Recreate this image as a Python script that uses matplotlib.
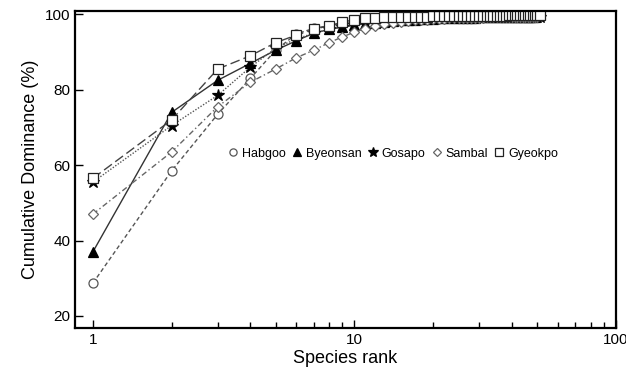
import matplotlib
matplotlib.use("Agg")
import matplotlib.pyplot as plt
from matplotlib.ticker import FixedLocator, FixedFormatter, NullFormatter

plt.rcParams['font.family'] = ['Liberation Sans', 'DejaVu Sans']

#### data ####
habgoo = [28.7, 58.5, 73.5, 83.0, 90.5, 94.8, 96.3, 97.0, 97.5, 97.9,
          98.2, 98.4, 98.5, 98.6, 98.7, 98.8, 98.8, 98.9, 98.9, 99.0,
          99.0, 99.0, 99.1, 99.1, 99.1, 99.1, 99.2, 99.2, 99.2, 99.2,
          99.2, 99.2, 99.3, 99.3, 99.3, 99.3, 99.3, 99.3, 99.3, 99.3,
          99.4, 99.4, 99.4, 99.4, 99.4, 99.4, 99.4, 99.4, 99.4, 99.4]
byeonsan = [37.0, 74.0, 82.5, 87.0, 90.5, 93.0, 95.0, 96.0, 96.6, 97.1,
            97.5, 97.8, 98.0, 98.2, 98.4, 98.5, 98.6, 98.7, 98.8, 98.8,
            98.9, 98.9, 99.0, 99.0, 99.0, 99.1, 99.1, 99.1, 99.1, 99.2,
            99.2, 99.2, 99.2, 99.2, 99.3, 99.3, 99.3, 99.3, 99.3, 99.3,
            99.3, 99.4, 99.4, 99.4, 99.4, 99.4, 99.4, 99.4, 99.4]
gosapo = [55.5, 70.5, 78.5, 86.0, 91.0, 93.5, 95.0, 96.0, 96.7, 97.2,
          97.6, 97.9, 98.1, 98.3, 98.5, 98.6, 98.7, 98.8, 98.8, 98.9,
          98.9, 99.0, 99.0, 99.0, 99.1, 99.1, 99.1, 99.1, 99.2, 99.2,
          99.2, 99.2, 99.2, 99.3, 99.3, 99.3, 99.3, 99.3, 99.3, 99.3,
          99.4, 99.4, 99.4, 99.4, 99.4, 99.4, 99.4, 99.4, 99.4, 99.4, 99.4]
sambal = [47.0, 63.5, 75.5, 82.0, 85.5, 88.5, 90.5, 92.5, 94.0, 95.3,
          96.2, 96.9, 97.4, 97.8, 98.0, 98.2, 98.4, 98.5, 98.6, 98.7,
          98.8, 98.8, 98.9, 98.9, 99.0, 99.0, 99.0, 99.1, 99.1, 99.1,
          99.1, 99.2, 99.2, 99.2, 99.2, 99.2, 99.3, 99.3, 99.3, 99.3,
          99.3, 99.3, 99.3, 99.4, 99.4, 99.4, 99.4, 99.4, 99.4, 99.4]
gyeokpo = [56.5, 72.0, 85.5, 89.0, 92.5, 94.5, 96.0, 97.0, 97.9, 98.6,
           98.9, 99.1, 99.2, 99.3, 99.3, 99.4, 99.4, 99.4, 99.4, 99.5,
           99.5, 99.5, 99.5, 99.5, 99.5, 99.5, 99.6, 99.6, 99.6, 99.6,
           99.6, 99.6, 99.6, 99.6, 99.6, 99.6, 99.6, 99.6, 99.7, 99.7,
           99.7, 99.7, 99.7, 99.7, 99.7, 99.7, 99.7, 99.7, 99.7, 99.7, 99.7]

names = ["Habgoo", "Byeonsan", "Gosapo", "Sambal", "Gyeokpo"]
series = [habgoo, byeonsan, gosapo, sambal, gyeokpo]

#### styles ####
styles = [
  dict(marker='o', mfc='white', mec='#555555', color='#555555', ls=(0, (3, 2)), ms=6.5),
  dict(marker='^', mfc='black', mec='black', color='#333333', ls='-', ms=7),
  dict(marker='*', mfc='black', mec='black', color='#555555', ls=(0, (1, 1.2)), ms=9),
  dict(marker='D', mfc='white', mec='#666666', color='#666666', ls=(0, (4, 2, 1, 2)), ms=5),
  dict(marker='s', mfc='white', mec='#222222', color='#444444', ls=(0, (7, 3)), ms=7),
]

fig = plt.figure(figsize=(6.26, 3.77), dpi=100)
ax = fig.add_axes([0.12, 0.13, 0.864, 0.84])

for name, vals, st in zip(names, series, styles):
  ranks = list(range(1, len(vals) + 1))
  ax.plot(ranks, vals, lw=1.0, mew=0.9, label=name, **st)

ax.set_xscale('log')
ax.set_xlim(0.855, 100)
ax.set_ylim(16.8, 100.8)

ax.xaxis.set_major_locator(FixedLocator([1, 10, 100]))
ax.xaxis.set_major_formatter(FixedFormatter(["1", "10", "100"]))
ax.xaxis.set_minor_locator(FixedLocator([2, 3, 4, 5, 6, 7, 8, 9, 20, 30, 40, 50, 60, 70, 80, 90]))
ax.xaxis.set_minor_formatter(NullFormatter())
ax.set_yticks([20, 40, 60, 80, 100])

ax.tick_params(which='both', direction='in', top=False, right=False, labelsize=11, width=1.0)
ax.tick_params(which='major', length=6)
ax.tick_params(which='minor', length=4)

for sp in ax.spines.values():
  sp.set_linewidth(1.6)

ax.set_xlabel("Species rank", fontsize=13, labelpad=2)
ax.set_ylabel("Cumulative Dominance (%)", fontsize=13, labelpad=4)

leg = ax.legend(loc='center', bbox_to_anchor=(0.588, 0.55), ncol=5, frameon=False,
                fontsize=9, handlelength=0.8, handletextpad=0.3, columnspacing=0.5,
                markerscale=0.8)
for h in leg.legend_handles:
  h.set_linestyle('')

plt.savefig("out.png", dpi=100)
